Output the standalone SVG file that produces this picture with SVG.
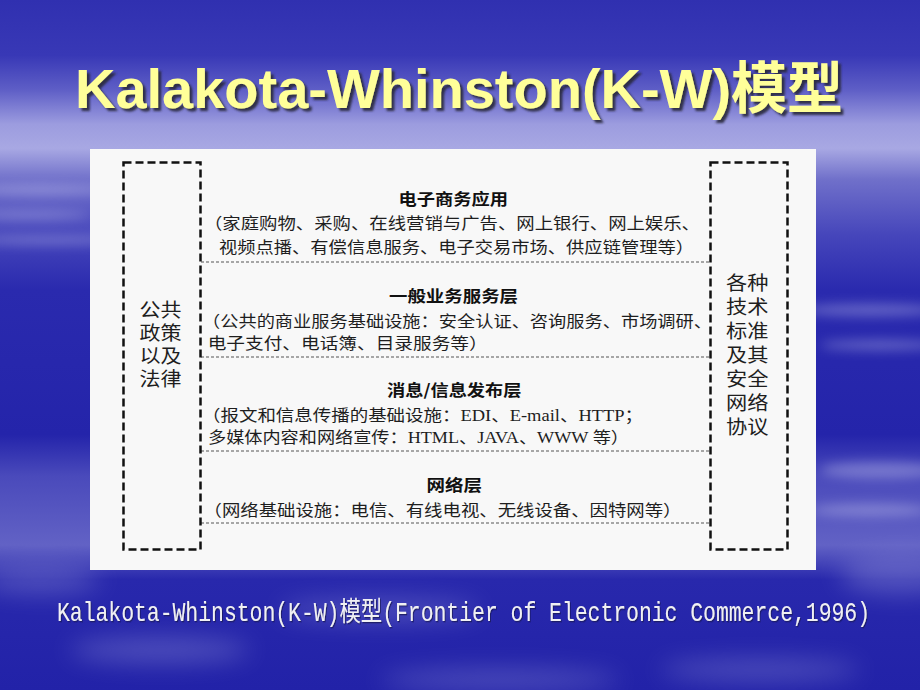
<svg xmlns="http://www.w3.org/2000/svg" width="920" height="690" viewBox="0 0 920 690">
  <defs>
    <linearGradient id="bg" x1="0" y1="0" x2="0" y2="1">
      <stop offset="0" stop-color="#3030b0"/>
      <stop offset="0.08" stop-color="#3838b6"/>
      <stop offset="0.13" stop-color="#5e5ec6"/>
      <stop offset="0.18" stop-color="#9c9cdf"/>
      <stop offset="0.215" stop-color="#a8a8e3"/>
      <stop offset="0.26" stop-color="#7070ca"/>
      <stop offset="0.34" stop-color="#4646bb"/>
      <stop offset="0.42" stop-color="#2a2aae"/>
      <stop offset="0.63" stop-color="#2424aa"/>
      <stop offset="0.69" stop-color="#4a4abb"/>
      <stop offset="0.79" stop-color="#6262c5"/>
      <stop offset="0.84" stop-color="#2828ac"/>
      <stop offset="1" stop-color="#2222a8"/>
    </linearGradient>
    <filter id="blur" x="-50%" y="-50%" width="200%" height="200%">
      <feGaussianBlur stdDeviation="6"/>
    </filter>
    <filter id="blur2" x="-50%" y="-50%" width="200%" height="200%">
      <feGaussianBlur stdDeviation="12"/>
    </filter>
    <filter id="tshadow" x="-5%" y="-20%" width="110%" height="150%">
      <feDropShadow dx="3" dy="3" stdDeviation="0.8" flood-color="#2a2a3a" flood-opacity="0.9"/>
    </filter>
    <filter id="cshadow" x="-5%" y="-20%" width="110%" height="150%">
      <feDropShadow dx="1" dy="1" stdDeviation="0.5" flood-color="#14145a" flood-opacity="0.8"/>
    </filter>
  </defs>
  <style>
    .box { fill: none; stroke: #111; stroke-width: 2.5; stroke-dasharray: 8 4; }
    .sep { stroke: #555; stroke-width: 1; stroke-dasharray: 3 2; fill: none; }
    .body { font-family: "Liberation Serif", "Noto Sans CJK SC", serif; font-size: 16px; fill: #1e1e1e; }
    .head { font-family: "Noto Sans CJK SC", sans-serif; font-size: 16px; font-weight: bold; fill: #111; }
    .side { font-family: "Noto Sans CJK SC", sans-serif; font-size: 19px; fill: #1e1e1e; }
    .title { font-family: "Liberation Sans", "Noto Sans CJK SC", sans-serif; font-size: 56px; font-weight: bold; fill: #ffff99; }
    .cap { font-family: "Liberation Mono", "Noto Sans CJK SC", monospace; font-size: 21px; fill: #f0f0f4; }
    .cloud { fill: #d8d8f6; }
  </style>

  <!-- background -->
  <rect x="0" y="0" width="920" height="690" fill="url(#bg)"/>
  <g opacity="0.35" filter="url(#blur)">
    <ellipse class="cloud" cx="40" cy="190" rx="70" ry="5"/>
    <ellipse class="cloud" cx="30" cy="215" rx="60" ry="4"/>
    <ellipse class="cloud" cx="50" cy="240" rx="80" ry="4"/>
    <ellipse class="cloud" cx="870" cy="310" rx="70" ry="6"/>
    <ellipse class="cloud" cx="880" cy="345" rx="60" ry="5"/>
    <ellipse class="cloud" cx="880" cy="470" rx="60" ry="8"/>
    <ellipse class="cloud" cx="870" cy="510" rx="60" ry="6"/>
  </g>
  <g opacity="0.25" filter="url(#blur2)">
    <ellipse class="cloud" cx="900" cy="575" rx="60" ry="18"/>
    <ellipse class="cloud" cx="40" cy="580" rx="60" ry="12"/>
    <ellipse class="cloud" cx="160" cy="650" rx="90" ry="12"/>
    <ellipse class="cloud" cx="380" cy="610" rx="100" ry="10"/>
    <ellipse class="cloud" cx="500" cy="680" rx="120" ry="10"/>
    <ellipse class="cloud" cx="760" cy="670" rx="100" ry="10"/>
  </g>

  <!-- title -->
  <g id="title">
    <text class="title" x="75" y="108" textLength="768" lengthAdjust="spacingAndGlyphs" filter="url(#tshadow)">Kalakota-Whinston(K-W)模型</text>
  </g>

  <!-- panel -->
  <rect id="panel" x="90" y="149" width="726" height="421" fill="#f8f8f8"/>

  <!-- connectors / separators -->
  <g id="connectors">
    <line class="sep" x1="201" y1="262" x2="710" y2="262"/>
    <line class="sep" x1="201" y1="357" x2="710" y2="357"/>
    <line class="sep" x1="201" y1="451" x2="710" y2="451"/>
    <line class="sep" x1="201" y1="523" x2="710" y2="523"/>
  </g>

  <!-- left box -->
  <g id="left-box">
    <rect class="box" x="123.5" y="162.5" width="77" height="387"/>
    <text class="side" x="139.5" y="317" textLength="42" lengthAdjust="spacingAndGlyphs">公共</text>
    <text class="side" x="139.5" y="340" textLength="42" lengthAdjust="spacingAndGlyphs">政策</text>
    <text class="side" x="139.5" y="363" textLength="42" lengthAdjust="spacingAndGlyphs">以及</text>
    <text class="side" x="139.5" y="386" textLength="42" lengthAdjust="spacingAndGlyphs">法律</text>
  </g>

  <!-- right box -->
  <g id="right-box">
    <rect class="box" x="710.5" y="162.5" width="77" height="387"/>
    <text class="side" x="726" y="290" textLength="42.5" lengthAdjust="spacingAndGlyphs">各种</text>
    <text class="side" x="726" y="314" textLength="42.5" lengthAdjust="spacingAndGlyphs">技术</text>
    <text class="side" x="726" y="338" textLength="42.5" lengthAdjust="spacingAndGlyphs">标准</text>
    <text class="side" x="726" y="362" textLength="42.5" lengthAdjust="spacingAndGlyphs">及其</text>
    <text class="side" x="726" y="386" textLength="42.5" lengthAdjust="spacingAndGlyphs">安全</text>
    <text class="side" x="726" y="410" textLength="42.5" lengthAdjust="spacingAndGlyphs">网络</text>
    <text class="side" x="726" y="434" textLength="42.5" lengthAdjust="spacingAndGlyphs">协议</text>
  </g>

  <!-- layer 1 -->
  <g id="layer-app">
    <text class="head" x="398.5" y="205" textLength="109.5" lengthAdjust="spacingAndGlyphs">电子商务应用</text>
    <text class="body" x="204" y="228.5" textLength="496" lengthAdjust="spacingAndGlyphs">（家庭购物、采购、在线营销与广告、网上银行、网上娱乐、</text>
    <text class="body" x="219" y="252.5" textLength="475" lengthAdjust="spacingAndGlyphs">视频点播、有偿信息服务、电子交易市场、供应链管理等）</text>
  </g>

  <!-- layer 2 -->
  <g id="layer-service">
    <text class="head" x="389" y="301.5" textLength="129" lengthAdjust="spacingAndGlyphs">一般业务服务层</text>
    <text class="body" x="202" y="326.5" textLength="510" lengthAdjust="spacingAndGlyphs">（公共的商业服务基础设施：安全认证、咨询服务、市场调研、</text>
    <text class="body" x="207.7" y="348.5" textLength="280" lengthAdjust="spacingAndGlyphs">电子支付、电话簿、目录服务等）</text>
  </g>

  <!-- layer 3 -->
  <g id="layer-message">
    <text class="head" x="387" y="396" textLength="134.5" lengthAdjust="spacingAndGlyphs">消息/信息发布层</text>
    <text class="body" x="202" y="421" textLength="441" lengthAdjust="spacingAndGlyphs">（报文和信息传播的基础设施：EDI、E-mail、HTTP；</text>
    <text class="body" x="208" y="443" textLength="421" lengthAdjust="spacingAndGlyphs">多媒体内容和网络宣传：HTML、JAVA、WWW 等）</text>
  </g>

  <!-- layer 4 -->
  <g id="layer-network">
    <text class="head" x="426.5" y="491" textLength="55.5" lengthAdjust="spacingAndGlyphs">网络层</text>
    <text class="body" x="203.5" y="516" textLength="478" lengthAdjust="spacingAndGlyphs">（网络基础设施：电信、有线电视、无线设备、因特网等）</text>
  </g>

  <!-- caption -->
  <g id="caption" transform="translate(57,621) scale(1,1.3)">
    <text class="cap" x="0" y="0" textLength="813" lengthAdjust="spacingAndGlyphs" filter="url(#cshadow)">Kalakota-Whinston(K-W)模型(Frontier of Electronic Commerce,1996)</text>
  </g>
</svg>
